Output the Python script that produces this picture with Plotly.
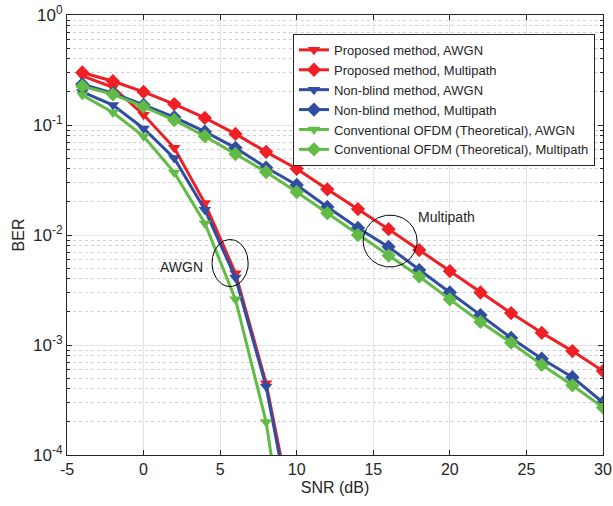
import numpy as np
import plotly.graph_objects as go

snr_awgn = [-4, -2, 0, 2, 4, 6, 8, 10]
snr_mp = [-4, -2, 0, 2, 4, 6, 8, 10, 12, 14, 16, 18, 20, 22, 24, 26, 28, 30]

prop_awgn = [0.28, 0.22, 0.124, 0.062, 0.0195, 0.0045, 4.5e-4, 1.8e-5]
prop_mp = [0.30, 0.25, 0.20, 0.155, 0.116, 0.083, 0.057, 0.040, 0.026, 0.0172,
           0.0113, 0.0073, 0.0047, 0.0030, 0.00195, 0.00129, 8.8e-4, 5.8e-4]
nb_awgn = [0.20, 0.152, 0.093, 0.05, 0.017, 0.0041, 4.2e-4, 1.5e-5]
nb_mp = [0.235, 0.195, 0.152, 0.118, 0.087, 0.062, 0.041, 0.0285, 0.018, 0.0116,
         0.0078, 0.0048, 0.0030, 0.00187, 0.00116, 7.5e-4, 5.1e-4, 3.0e-4]
conv_awgn = [0.187, 0.13, 0.079, 0.037, 0.0128, 0.0026, 2.0e-4, 3e-6]
conv_mp = [0.225, 0.19, 0.147, 0.111, 0.079, 0.0545, 0.0374, 0.0246, 0.0158, 0.0100,
           0.0065, 0.0042, 0.0026, 0.00162, 0.00105, 6.6e-4, 4.3e-4, 2.7e-4]

xtick_vals = [-5, 0, 5, 10, 15, 20, 25, 30]
xtick_text = ["-5", "0", "5", "10", "15", "20", "25", "30"]
ytick_vals = [1e-4, 1e-3, 1e-2, 1e-1, 1]
ytick_text = ["10<sup>-4</sup>", "10<sup>-3</sup>", "10<sup>-2</sup>", "10<sup>-1</sup>", "10<sup>0</sup>"]
ytick_minor = [m * 10.0 ** e for e in range(-4, 0) for m in range(2, 10)]

RED = '#EE1F25'
BLUE = '#2F4EA2'
GREEN = '#62BB46'

series = [
    ("Proposed method, AWGN", snr_awgn, prop_awgn, RED, 'triangle-down'),
    ("Proposed method, Multipath", snr_mp, prop_mp, RED, 'diamond'),
    ("Non-blind method, AWGN", snr_awgn, nb_awgn, BLUE, 'triangle-down'),
    ("Non-blind method, Multipath", snr_mp, nb_mp, BLUE, 'diamond'),
    ("Conventional OFDM (Theoretical), AWGN", snr_awgn, conv_awgn, GREEN, 'triangle-down'),
    ("Conventional OFDM (Theoretical), Multipath", snr_mp, conv_mp, GREEN, 'diamond'),
]

fig = go.Figure()
for name, xs, ys, col, sym in series:
    fig.add_trace(go.Scatter(
        x=xs, y=ys, name=name, mode='lines+markers',
        line=dict(color=col, width=3),
        marker=dict(symbol=sym, size=11, color=col),
    ))

# ellipse annotations (center SNR, center log10 BER, half-width dB, half-height decades)
ellipses = [(5.65, -2.255, 1.18, 0.214), (16.1, -2.055, 1.76, 0.236)]
t = np.linspace(0, 2 * np.pi, 120)
for cx, cy, rx, ry in ellipses:
    fig.add_trace(go.Scatter(
        x=cx + rx * np.cos(t), y=10 ** (cy + ry * np.sin(t)),
        mode='lines', line=dict(color='black', width=1),
        showlegend=False, hoverinfo='skip'))

FONT = "Liberation Sans, Arial, sans-serif"
TXT = '#262626'

fig.add_annotation(x=2.45, y=-2.29, text="AWGN", showarrow=False,
                   font=dict(family=FONT, size=14, color=TXT), xref='x', yref='y')
fig.add_annotation(x=19.8, y=-1.84, text="Multipath", showarrow=False,
                   font=dict(family=FONT, size=14, color=TXT), xref='x', yref='y')

fig.update_layout(
    width=613, height=506,
    margin=dict(l=67, r=10, t=15, b=51),
    paper_bgcolor='white', plot_bgcolor='white',
    font=dict(family=FONT, size=16, color=TXT),
    showlegend=True,
    legend=dict(x=0.985, y=0.957, xanchor='right', yanchor='top',
                bgcolor='white', bordercolor='#262626', borderwidth=1,
                font=dict(family=FONT, size=13, color=TXT),
                tracegroupgap=0, itemwidth=30),
    xaxis=dict(range=[-5, 30], tickvals=xtick_vals, ticktext=xtick_text,
               automargin=False, tickfont=dict(size=16),
               showgrid=True, gridcolor='#E3E3E3', gridwidth=1,
               showline=True, linecolor='#262626', linewidth=1, mirror='ticks',
               ticks='inside', ticklen=5, tickcolor='#262626',
               zeroline=False,
               title=dict(text="SNR (dB)", font=dict(size=16), standoff=4)),
    yaxis=dict(type='log', range=[-4, 0],
               tickvals=ytick_vals, ticktext=ytick_text,
               automargin=False, tickfont=dict(size=17),
               showgrid=True, gridcolor='#E3E3E3', gridwidth=1,
               showline=True, linecolor='#262626', linewidth=1, mirror='ticks',
               ticks='inside', ticklen=5, tickcolor='#262626',
               minor=dict(tickvals=ytick_minor, ticks='inside', ticklen=3,
                          tickcolor='#262626', showgrid=True,
                          gridcolor='#D0D0D0', griddash='dot'),
               zeroline=False,
               title=dict(text="BER", font=dict(size=16), standoff=4)),
)

fig.write_html("out.html", config={'displayModeBar': False},
               post_script="document.body.style.margin='0';")
